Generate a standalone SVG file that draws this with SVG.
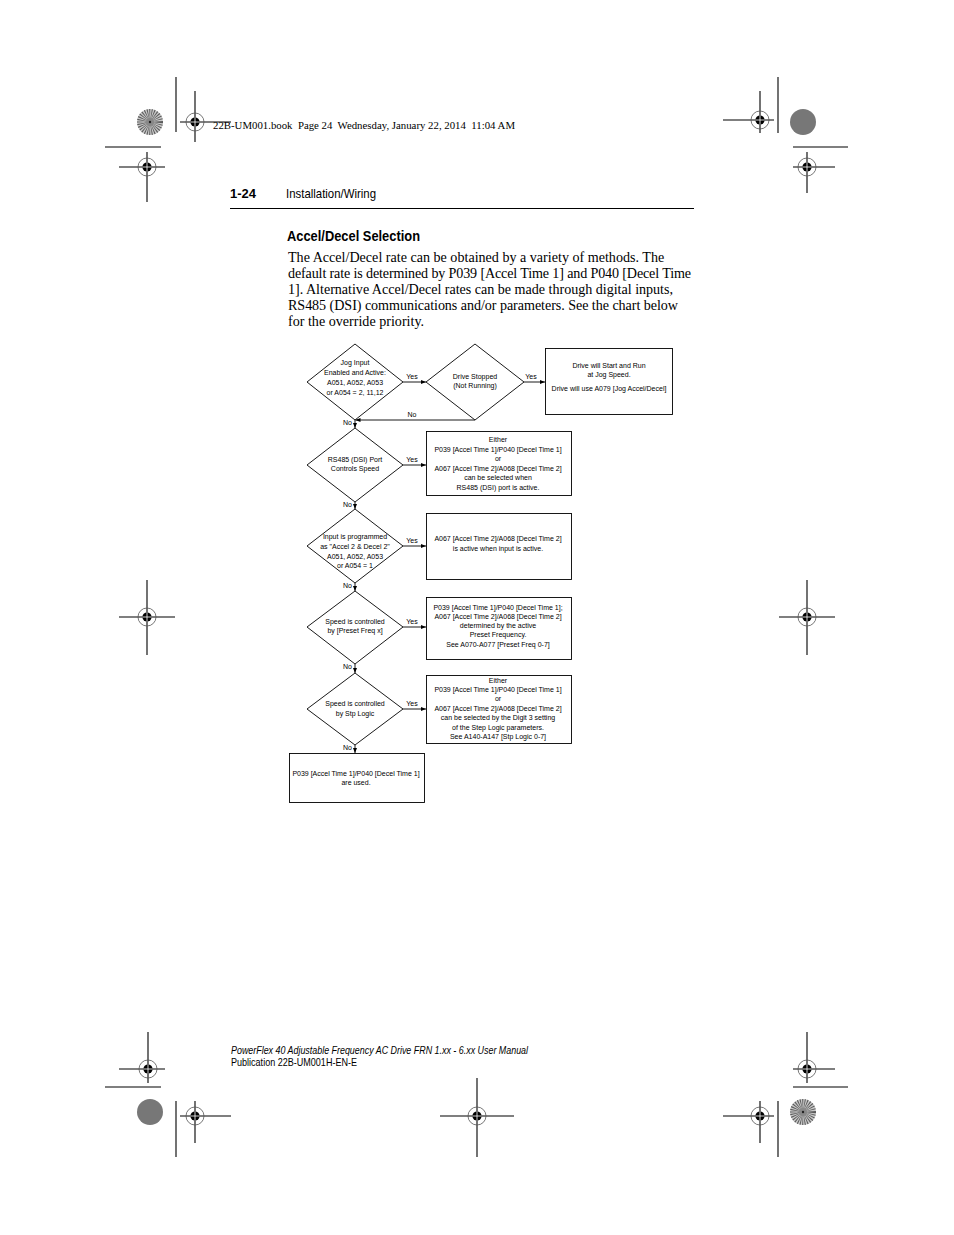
<svg xmlns="http://www.w3.org/2000/svg" xmlns:xlink="http://www.w3.org/1999/xlink" width="954" height="1235" viewBox="0 0 954 1235">
<style>
.ln{stroke:#000;stroke-width:1.1;fill:none}
.shape{fill:#fff;stroke:#000;stroke-width:0.9}
.ft{font-family:"Liberation Sans",Arial,sans-serif;font-size:7px;fill:#000;text-anchor:middle}
.lbl{font-family:"Liberation Sans",Arial,sans-serif;font-size:7px;fill:#000}
.con{stroke:#000;stroke-width:0.9;fill:none;marker-end:url(#ah)}
.serif{font-family:"Liberation Serif","Times New Roman",serif;fill:#000}
.sans{font-family:"Liberation Sans",Arial,sans-serif;fill:#000}
</style>
<defs>
<marker id="ah" markerUnits="userSpaceOnUse" markerWidth="5" markerHeight="4" refX="5" refY="2" orient="auto">
<path d="M0,0 L5,2 L0,4 z" fill="#000"/>
</marker>
<g id="reg">
<circle r="9" fill="none" stroke="#555" stroke-width="0.8"/>
<circle r="4.6" fill="#000"/>
<path d="M-4.6,0 H4.6 M0,-4.6 V4.6" stroke="#fff" stroke-width="0.8"/>
</g>
<g id="sun">
<circle r="13" fill="#c8c8c8"/>
<circle r="6.5" fill="none" stroke="#5a5a5a" stroke-width="13" stroke-dasharray="0.6 0.8"/>
<circle r="4" fill="#888"/>
<circle r="1.2" fill="#222"/>
</g>
<g id="dot">
<circle r="13" fill="#777"/>
</g>
</defs>

<!-- Registration marks -->
<g id="marks">
<g class="ln">
<path d="M176,77 V132 M180,122 H231 M195,91 V142 M105,147 H161 M119,167 H165 M147,152 V202"/>
<path d="M778,77 V133 M723,120 H774 M760,91 V133 M793,147 H848 M793,167 H835 M807,152 V193"/>
<path d="M119,617 H175 M147,580 V655 M779,617 H835 M807,580 V655"/>
<path d="M119,1069 H165 M148,1032 V1083 M105,1087 H161 M176,1101 V1157 M180,1116 H231 M195,1101 V1143"/>
<path d="M440,1116 H514 M477,1078 V1157"/>
<path d="M793,1069 H835 M807,1032 V1083 M793,1087 H848 M778,1101 V1157 M723,1116 H774 M760,1101 V1143"/>
</g>
<use xlink:href="#reg" x="195" y="122"/>
<use xlink:href="#reg" x="147" y="167"/>
<use xlink:href="#reg" x="760" y="120"/>
<use xlink:href="#reg" x="807" y="167"/>
<use xlink:href="#reg" x="147" y="617"/>
<use xlink:href="#reg" x="807" y="617"/>
<use xlink:href="#reg" x="148" y="1069"/>
<use xlink:href="#reg" x="195" y="1116"/>
<use xlink:href="#reg" x="477" y="1116"/>
<use xlink:href="#reg" x="807" y="1069"/>
<use xlink:href="#reg" x="760" y="1116"/>
<use xlink:href="#sun" x="150" y="122"/>
<use xlink:href="#dot" x="803" y="122"/>
<use xlink:href="#dot" x="150" y="1112"/>
<use xlink:href="#sun" x="803" y="1112"/>
</g>

<!-- Page text -->
<text class="serif" x="213" y="129" font-size="11" textLength="302" lengthAdjust="spacingAndGlyphs" xml:space="preserve">22B-UM001.book  Page 24  Wednesday, January 22, 2014  11:04 AM</text>
<text class="sans" x="230" y="198" font-size="13" font-weight="bold">1-24</text>
<text class="sans" x="286" y="198" font-size="13" textLength="90" lengthAdjust="spacingAndGlyphs">Installation/Wiring</text>
<path d="M230,208.5 H694" stroke="#000" stroke-width="1"/>
<text class="sans" x="287" y="241" font-size="15" font-weight="bold" textLength="133" lengthAdjust="spacingAndGlyphs">Accel/Decel Selection</text>
<g class="serif" font-size="14.1">
<text x="288" y="262">The Accel/Decel rate can be obtained by a variety of methods. The</text>
<text x="288" y="278" textLength="403" lengthAdjust="spacing">default rate is determined by P039 [Accel Time 1] and P040 [Decel Time</text>
<text x="288" y="294" textLength="385" lengthAdjust="spacing">1]. Alternative Accel/Decel rates can be made through digital inputs,</text>
<text x="288" y="310" textLength="390" lengthAdjust="spacing">RS485 (DSI) communications and/or parameters. See the chart below</text>
<text x="288" y="326">for the override priority.</text>
</g>
<text class="sans" x="231" y="1054" font-size="10.5" font-style="italic" textLength="297" lengthAdjust="spacingAndGlyphs">PowerFlex 40 Adjustable Frequency AC Drive FRN 1.xx - 6.xx User Manual</text>
<text class="sans" x="231" y="1066" font-size="10.5" textLength="126" lengthAdjust="spacingAndGlyphs">Publication 22B-UM001H-EN-E</text>

<!-- Connectors -->
<g id="connectors">
<path class="con" d="M403,382 H426"/>
<path class="con" d="M524,382 H545"/>
<path class="con" d="M475,420 H355.5"/>
<path class="con" d="M355,420 V428"/>
<path class="con" d="M403,465 H426"/>
<path class="con" d="M355,502 V509"/>
<path class="con" d="M403,546 H426"/>
<path class="con" d="M355,583 V591"/>
<path class="con" d="M403,627 H426"/>
<path class="con" d="M355,664 V673"/>
<path class="con" d="M403,709 H426"/>
<path class="con" d="M355,745 V753"/>
<g class="lbl" text-anchor="middle">
<text x="412" y="379">Yes</text>
<text x="531" y="379">Yes</text>
<text x="412" y="417">No</text>
<text x="412" y="462">Yes</text>
<text x="412" y="543">Yes</text>
<text x="412" y="624">Yes</text>
<text x="412" y="706">Yes</text>
</g>
<g class="lbl" text-anchor="end">
<text x="352" y="425">No</text>
<text x="352" y="507">No</text>
<text x="352" y="588">No</text>
<text x="352" y="669">No</text>
<text x="352" y="750">No</text>
</g>
</g>

<!-- Nodes -->
<g id="d1">
<path class="shape" d="M355,344 L403,382 L355,420 L307,382 Z"/>
<text class="ft" x="355" y="365">Jog Input</text>
<text class="ft" x="355" y="375">Enabled and Active:</text>
<text class="ft" x="355" y="385">A051, A052, A053</text>
<text class="ft" x="355" y="395">or A054 = 2, 11,12</text>
</g>
<g id="d2">
<path class="shape" d="M475,344 L524,382 L475,420 L426,382 Z"/>
<text class="ft" x="475" y="379">Drive Stopped</text>
<text class="ft" x="475" y="388">(Not Running)</text>
</g>
<g id="b1">
<rect class="shape" x="545.5" y="348.5" width="127" height="66"/>
<text class="ft" x="609" y="368">Drive will Start and Run</text>
<text class="ft" x="609" y="377">at Jog Speed.</text>
<text class="ft" x="609" y="391">Drive will use A079 [Jog Accel/Decel]</text>
</g>
<g id="d3">
<path class="shape" d="M355,428 L403,465 L355,502 L307,465 Z"/>
<text class="ft" x="355" y="462">RS485 (DSI) Port</text>
<text class="ft" x="355" y="471">Controls Speed</text>
</g>
<g id="b2">
<rect class="shape" x="426.5" y="431.5" width="145" height="64"/>
<text class="ft" x="498" y="442">Either</text>
<text class="ft" x="498" y="451.5">P039 [Accel Time 1]/P040 [Decel Time 1]</text>
<text class="ft" x="498" y="461">or</text>
<text class="ft" x="498" y="470.5">A067 [Accel Time 2]/A068 [Decel Time 2]</text>
<text class="ft" x="498" y="480">can be selected when</text>
<text class="ft" x="498" y="489.5">RS485 (DSI) port is active.</text>
</g>
<g id="d4">
<path class="shape" d="M355,509 L403,546 L355,583 L307,546 Z"/>
<text class="ft" x="355" y="539">Input is programmed</text>
<text class="ft" x="355" y="549">as "Accel 2 &amp; Decel 2"</text>
<text class="ft" x="355" y="558.5">A051, A052, A053</text>
<text class="ft" x="355" y="568">or A054 = 1</text>
</g>
<g id="b3">
<rect class="shape" x="426.5" y="513.5" width="145" height="66"/>
<text class="ft" x="498" y="541">A067 [Accel Time 2]/A068 [Decel Time 2]</text>
<text class="ft" x="498" y="550.5">is active when input is active.</text>
</g>
<g id="d5">
<path class="shape" d="M355,591 L403,627 L355,664 L307,627 Z"/>
<text class="ft" x="355" y="623.5">Speed is controlled</text>
<text class="ft" x="355" y="633">by [Preset Freq x]</text>
</g>
<g id="b4">
<rect class="shape" x="426.5" y="597.5" width="145" height="62"/>
<text class="ft" x="498" y="609.5">P039 [Accel Time 1]/P040 [Decel Time 1];</text>
<text class="ft" x="498" y="619">A067 [Accel Time 2]/A068 [Decel Time 2]</text>
<text class="ft" x="498" y="628">determined by the active</text>
<text class="ft" x="498" y="637">Preset Frequency.</text>
<text class="ft" x="498" y="646.5">See A070-A077 [Preset Freq 0-7]</text>
</g>
<g id="d6">
<path class="shape" d="M355,673 L403,709 L355,745 L307,709 Z"/>
<text class="ft" x="355" y="705.5">Speed is controlled</text>
<text class="ft" x="355" y="715.5">by Stp Logic</text>
</g>
<g id="b5">
<rect class="shape" x="426.5" y="675.5" width="145" height="68"/>
<text class="ft" x="498" y="682.5">Either</text>
<text class="ft" x="498" y="691.5">P039 [Accel Time 1]/P040 [Decel Time 1]</text>
<text class="ft" x="498" y="701">or</text>
<text class="ft" x="498" y="710.5">A067 [Accel Time 2]/A068 [Decel Time 2]</text>
<text class="ft" x="498" y="720">can be selected by the Digit 3 setting</text>
<text class="ft" x="498" y="729.5">of the Step Logic parameters.</text>
<text class="ft" x="498" y="739">See A140-A147 [Stp Logic 0-7]</text>
</g>
<g id="b6">
<rect class="shape" x="289.5" y="753.5" width="135" height="49"/>
<text class="ft" x="356" y="775.5">P039 [Accel Time 1]/P040 [Decel Time 1]</text>
<text class="ft" x="356" y="785">are used.</text>
</g>
</svg>
